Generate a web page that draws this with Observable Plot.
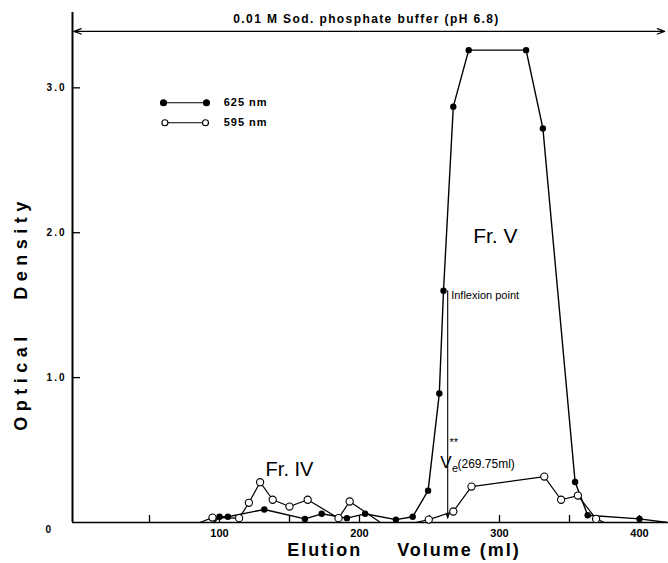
<!DOCTYPE html>
<html>
<head>
<meta charset="utf-8">
<script src="https://cdn.jsdelivr.net/npm/d3@7"></script>
<script src="https://cdn.jsdelivr.net/npm/@observablehq/plot@0.6"></script>
<style>
  html, body { margin: 0; padding: 0; background: #fff; }
</style>
</head>
<body>
<div id="chart"></div>
<script>
// ---- data ----
// 625 nm (filled circles)
const vol625 = [96, 100, 106, 132, 161, 173, 191, 204, 226, 238, 249, 257, 260, 267, 278, 319, 331, 354, 363, 400, 420];
const od625  = [0, 0.04, 0.04, 0.09, 0.025, 0.06, 0.03, 0.06, 0.02, 0.04, 0.22, 0.89, 1.60, 2.87, 3.26, 3.26, 2.72, 0.28, 0.05, 0.025, 0];
// 595 nm (open circles)
const vol595 = [86, 95, 114, 121, 129, 138, 150, 163, 185, 193, 215, 240, 249.5, 267, 280, 332, 344, 356, 369, 375];
const od595  = [0, 0.034, 0.03, 0.136, 0.278, 0.157, 0.11, 0.157, 0.03, 0.145, 0, 0, 0.02, 0.076, 0.248, 0.317, 0.157, 0.186, 0.025, 0];

const xTickLabels = [100, 200, 300, 400];
const xTickMarks = [50, 100, 150, 200, 250, 300, 350, 400];
const yTicks = [1, 2, 3];
const xDomain = [-5, 420];
const yDomain = [0, 3.52];

// annotations
const bufferText = "0.01 M Sod. phosphate buffer (pH 6.8)";
const bufferLevel = 3.39;
const veVolume = 263;        // where the Ve arrow is drawn in the figure
const inflexionOD = 1.60;
const xTitle = "Elution     Volume (ml)";
const yTitle = "Optical   Density";

const series625 = vol625.map((v, i) => ({v, od: od625[i]}));
const series595 = vol595.map((v, i) => ({v, od: od595[i]}));

const legendRows = [
  {label: "625 nm", x1: 60, x2: 90.7, xt: 103, y: 2.897, fill: "black"},
  {label: "595 nm", x1: 61, x2: 90, xt: 103, y: 2.759, fill: "white"}
];

const centerLabels = [
  {text: "Fr. V",  v: 297, od: 1.93, size: 21},
  {text: "Fr. IV", v: 150, od: 0.324, size: 20}
];
const startLabels = [
  {text: "Inflexion point", v: 265.5, od: 1.545, size: 11},
  {text: "V", v: 257.6, od: 0.379, size: 17},
  {text: "e", v: 266.0, od: 0.352, size: 11},
  {text: "(269.75ml)", v: 270.0, od: 0.379, size: 12},
  {text: "**", v: 264.3, od: 0.53, size: 11}
];

const font = "'Liberation Sans', Arial, sans-serif";
const plotH = 563 - 12 - 41;
const plotW = 668 - 72 - 1;

const chart = Plot.plot({
  width: 668,
  height: 563,
  marginLeft: 72,
  marginRight: 1,
  marginTop: 12,
  marginBottom: 41,
  x: {domain: xDomain},
  y: {domain: yDomain},
  style: {fontFamily: font, background: "white", color: "black", overflow: "visible"},
  marks: [
    // axes lines
    Plot.ruleX([xDomain[0]], {stroke: "black", strokeWidth: 2}),
    Plot.ruleY([0], {stroke: "black", strokeWidth: 1.6}),
    Plot.tickX(xTickMarks, {x: d => d, insetTop: plotH - 7, stroke: "black", strokeWidth: 1.3}),
    Plot.tickY(yTicks, {y: d => d, insetRight: plotW - 8, stroke: "black", strokeWidth: 1.3}),
    Plot.axisX(xTickLabels, {tickSize: 0, tickPadding: 7, fontSize: 11, fontWeight: "bold", label: null, fontFamily: font}),
    Plot.axisY(yTicks, {tickSize: 0, tickPadding: 6, fontSize: 10, fontWeight: "bold", label: null, tickFormat: d3.format(".1f"), fontFamily: font}),
    Plot.text(["0"], {frameAnchor: "bottom-left", dx: -27, dy: 10, fontSize: 10, fontWeight: "bold", fill: "black"}),
    Plot.text([xTitle], {frameAnchor: "bottom", textAnchor: "middle", dx: 34, dy: 33, fontSize: 18, fontWeight: "bold", fill: "black"}),
    Plot.text([yTitle], {frameAnchor: "left", textAnchor: "middle", dx: -51, dy: 46, rotate: -90, fontSize: 18, fontWeight: "bold", fill: "black"}),

    // buffer arrow
    Plot.arrow([{x1: 205, x2: xDomain[0] + 1}, {x1: 205, x2: 418}], {
      x1: "x1", x2: "x2", y1: () => bufferLevel, y2: () => bufferLevel,
      stroke: "black", strokeWidth: 1.3, headLength: 9, headAngle: 40
    }),
    Plot.text([bufferText], {x: () => 205, y: () => 3.475, fontSize: 12, fontWeight: "bold", fill: "black"}),

    // Ve arrow
    Plot.arrow([{x: veVolume}], {x1: "x", x2: "x", y1: () => inflexionOD, y2: () => 0.03,
      stroke: "black", strokeWidth: 1.1, headLength: 7, headAngle: 35}),

    // data
    Plot.line(series595, {x: "v", y: "od", stroke: "black", strokeWidth: 1.2}),
    Plot.line(series625, {x: "v", y: "od", stroke: "black", strokeWidth: 1.4}),
    Plot.dot(series595.filter(d => d.od > 0.005), {x: "v", y: "od", r: 3.6, fill: "white", stroke: "black", strokeWidth: 1.1}),
    Plot.dot(series625.filter(d => d.od > 0.005), {x: "v", y: "od", r: 3.2, fill: "black"}),

    // legend
    Plot.link(legendRows, {x1: "x1", x2: "x2", y1: "y", y2: "y", stroke: "black", strokeWidth: 1.2}),
    Plot.dot(legendRows.flatMap(d => [{x: d.x1, y: d.y, fill: d.fill}, {x: d.x2, y: d.y, fill: d.fill}]),
      {x: "x", y: "y", r: 3, fill: "fill", stroke: "black", strokeWidth: 1.1}),
    Plot.text(legendRows, {x: "xt", y: "y", text: "label", textAnchor: "start", fontSize: 11, fontWeight: "bold", fill: "black"}),

    // labels
    Plot.text(centerLabels, {x: "v", y: "od", text: "text", fontSize: "size", textAnchor: "middle", lineAnchor: "bottom", fill: "black"}),
    Plot.text(startLabels, {x: "v", y: "od", text: "text", fontSize: "size", textAnchor: "start", lineAnchor: "bottom", fill: "black"})
  ]
});

// typographic touches (letter spacing / preserved spaces)
const spacing = new Map([
  [bufferText, "1.4px"],
  [xTitle, "2px"],
  [yTitle, "5.5px"],
  ["625 nm", "1px"],
  ["595 nm", "1px"],
  ["1.0", "2px"], ["2.0", "2px"], ["3.0", "2px"]
]);
d3.select(chart).selectAll("text").each(function() {
  const el = d3.select(this);
  el.style("font-family", font);
  const t = this.textContent;
  if (spacing.has(t)) {
    el.style("letter-spacing", spacing.get(t)).style("white-space", "pre").attr("xml:space", "preserve");
  }
});
document.getElementById("chart").appendChild(chart);
</script>
</body>
</html>
